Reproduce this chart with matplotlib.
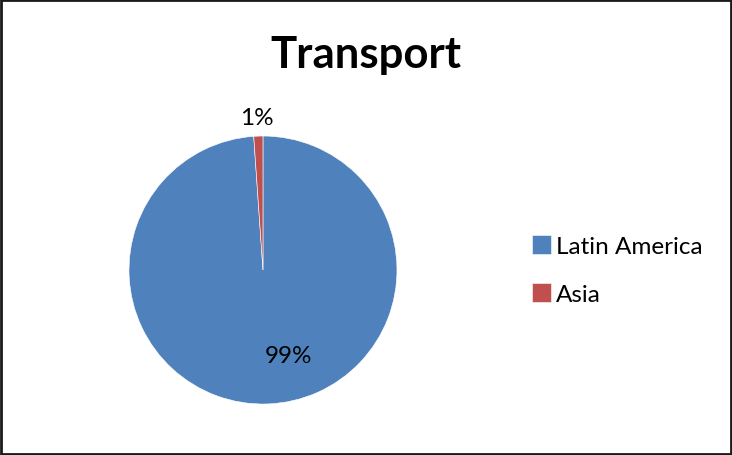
import matplotlib.pyplot as plt
from matplotlib.patches import Rectangle

plt.rcParams['font.family'] = ['Lato', 'DejaVu Sans']

regions = ['Latin America', 'Asia']
shares = [98.9, 1.1]
colors = ['#4F81BD', '#C0504D']

fig = plt.figure(figsize=(7.32, 4.56), dpi=100)
ax = fig.add_axes([0.1762, 0.1118, 0.3661, 0.5877])

wedges, _ = ax.pie(shares, colors=colors, startangle=90, counterclock=False,
                   radius=1.0, wedgeprops=dict(linewidth=0.4, edgecolor='white'))
ax.set_xlim(-1, 1)
ax.set_ylim(-1, 1)
ax.set_aspect('equal')
ax.axis('off')

# value labels (rounded percentages)
label_pos = [(0.19, -0.64), (-0.045, 1.14)]
for share, (lx, ly) in zip(shares, label_pos):
    ax.text(lx, ly, f'{round(share)}%', ha='center', va='center', fontsize=17.5,
            color='black', clip_on=False)

fig.text(0.5, 1 - 68 / 456, 'Transport', ha='center', va='baseline',
         fontsize=31.5, fontweight='bold')

fig.legend(wedges, regions, loc='upper left', bbox_to_anchor=(532 / 732, 1 - 236 / 456),
           frameon=False, fontsize=17.5, handlelength=0.8, handleheight=0.8,
           handletextpad=0.2, labelspacing=1.1, borderpad=0, borderaxespad=0)

fig.patches.append(Rectangle((0.002, 0.003), 0.996, 0.994, transform=fig.transFigure,
                             fill=False, edgecolor='#1a1a1a', linewidth=2))

fig.savefig('out.png', dpi=100)
